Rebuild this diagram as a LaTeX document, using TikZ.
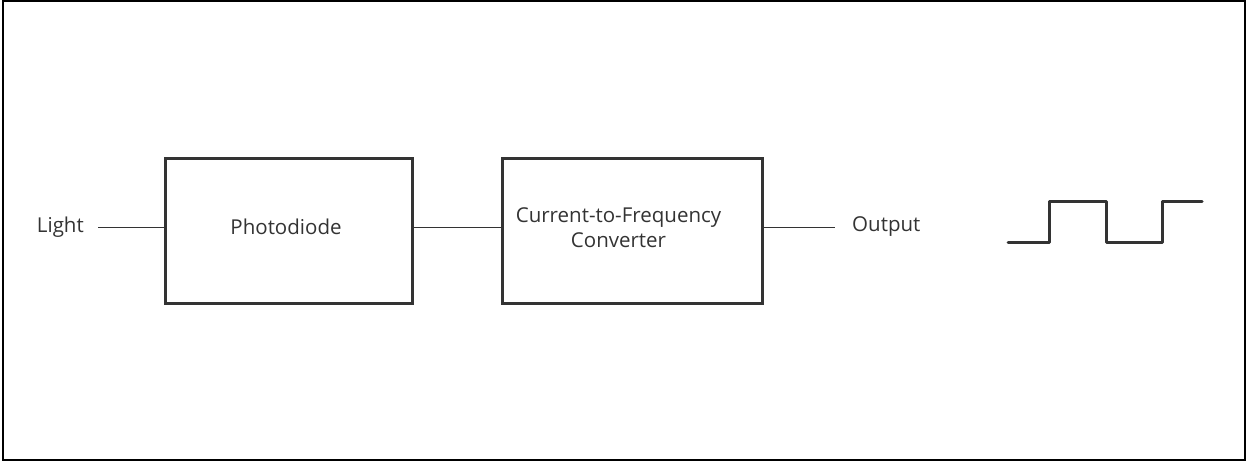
\documentclass[tikz,border=0pt]{standalone}
\usepackage{fontspec}
\setmainfont{Open Sans}
\definecolor{ink}{HTML}{333333}
\begin{document}
\begin{tikzpicture}[x=1pt,y=-1pt,
  blk/.style={draw=ink,line width=3pt,minimum width=#1,minimum height=145pt,inner sep=0pt},
  lbl/.style={text=ink,font=\fontsize{20.5}{25.5}\selectfont,inner sep=0pt,align=center},
  wire/.style={draw=ink,line width=0.9pt},
  wave/.style={draw=ink,line width=3pt,line cap=round,line join=round}]
\useasboundingbox (0,0) rectangle (1246,461);
\draw[line width=2pt] (3,1) rectangle (1245,460);
\node[blk=247pt] (pd) at (288.5,230.5) {};
\node[blk=260pt] (cf) at (632,230.5) {};
\node[lbl] (pdt) at (286,227) {Photodiode};
\node[lbl] (cft) at (618.5,227.5) {Current-to-Frequency\\Converter};
\node[lbl,anchor=east] (light) at (84,227) {Light};
\node[lbl,anchor=west] (out) at (852,227) {Output};
\coordinate (lend) at (98,227);
\coordinate (oend) at (835,227);
\draw[wire] (lend) -- (pd.west |- lend);
\draw[wire] (pd.east |- lend) -- (cf.west |- lend);
\draw[wire] (cf.east |- lend) -- (oend);
\draw[wave] (1008,242) -- (1049,242) -- (1049,201) -- (1106,201) -- (1106,242) -- (1162,242) -- (1162,201) -- (1202,201);
\end{tikzpicture}
\end{document}
